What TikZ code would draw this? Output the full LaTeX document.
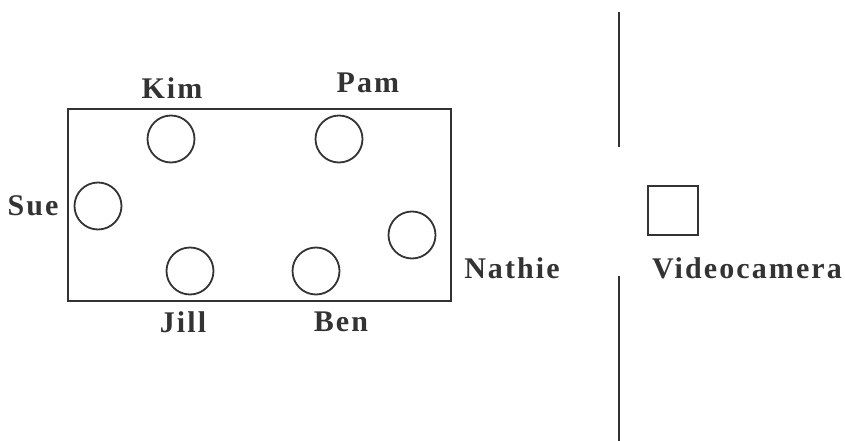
\documentclass[tikz,border=0pt]{standalone}
\usepackage{fontspec}
\setmainfont{Liberation Serif}
\definecolor{ink}{HTML}{333333}
\begin{document}
\begin{tikzpicture}[x=1pt,y=-1pt,
    seat/.style={draw=ink,line width=1.8pt,circle,minimum size=47pt,inner sep=0pt},
    who/.style={text=ink,font=\fontsize{30}{30}\selectfont\bfseries\addfontfeature{LetterSpace=7},inner sep=0pt}]
    \useasboundingbox (0,0) rectangle (845,441);
    \draw[ink,line width=2.2pt] (68,109) rectangle (451,301);
    \node[seat] (kim) at (171,139) {};
    \node[seat] (pam) at (339,139) {};
    \node[seat] (sue) at (98,206) {};
    \node[seat] (nathie) at (412,235) {};
    \node[seat] (jill) at (190,271) {};
    \node[seat] (ben) at (316,271) {};
    \node[who] (kimlbl) at (172,88) {Kim};
    \node[who] (pamlbl) at (368,83) {Pam};
    \node[who] (suelbl) at (33,206) {Sue};
    \node[who] (nathielbl) at (512,268) {Nathie};
    \node[who] (jilllbl) at (183,322) {Jill};
    \node[who] (benlbl) at (341,322) {Ben};
    % wall with opening
    \draw[ink,line width=2pt] (619,12) -- (619,147);
    \draw[ink,line width=2pt] (619,276) -- (619,441);
    \draw[ink,line width=2pt] (648,186) rectangle (698,235);
    \node[who] (cam) at (747,268) {Videocamera};
\end{tikzpicture}
\end{document}
